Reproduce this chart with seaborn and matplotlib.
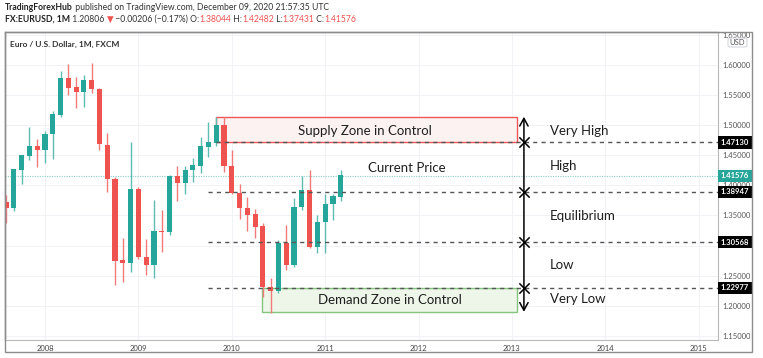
import matplotlib
matplotlib.use("Agg")
import matplotlib.pyplot as plt
import matplotlib.transforms as mtransforms
from matplotlib.patches import Rectangle, FancyBboxPatch
import seaborn as sns
import numpy as np

# ---------------- data ----------------
months = ["2007-08", "2007-09", "2007-10", "2007-11", "2007-12",
          "2008-01", "2008-02", "2008-03", "2008-04", "2008-05", "2008-06",
          "2008-07", "2008-08", "2008-09", "2008-10", "2008-11", "2008-12",
          "2009-01", "2009-02", "2009-03", "2009-04", "2009-05", "2009-06",
          "2009-07", "2009-08", "2009-09", "2009-10", "2009-11", "2009-12",
          "2010-01", "2010-02", "2010-03", "2010-04", "2010-05", "2010-06",
          "2010-07", "2010-08", "2010-09", "2010-10", "2010-11", "2010-12",
          "2011-01", "2011-02", "2011-03"]
opens = [1.371, 1.362, 1.426, 1.449, 1.464,
         1.459, 1.485, 1.517, 1.578, 1.562, 1.555,
         1.575, 1.560, 1.467, 1.410, 1.275, 1.271,
         1.394, 1.281, 1.268, 1.324, 1.322, 1.414,
         1.404, 1.425, 1.432, 1.464, 1.471, 1.500,
         1.432, 1.387, 1.362, 1.351, 1.331, 1.231,
         1.225, 1.304, 1.268, 1.364, 1.392, 1.298,
         1.339, 1.369, 1.38044]
highs = [1.384, 1.428, 1.450, 1.497, 1.477,
         1.491, 1.523, 1.590, 1.602, 1.580, 1.584,
         1.603, 1.561, 1.487, 1.414, 1.313, 1.472,
         1.397, 1.311, 1.376, 1.359, 1.418, 1.433,
         1.433, 1.445, 1.480, 1.506, 1.514, 1.514,
         1.459, 1.402, 1.381, 1.360, 1.337, 1.246,
         1.310, 1.334, 1.379, 1.416, 1.425, 1.350,
         1.386, 1.386, 1.42482]
lows = [1.338, 1.357, 1.402, 1.442, 1.430,
        1.437, 1.444, 1.514, 1.550, 1.529, 1.530,
        1.553, 1.459, 1.389, 1.235, 1.239, 1.256,
        1.277, 1.251, 1.246, 1.289, 1.318, 1.374,
        1.385, 1.406, 1.420, 1.447, 1.466, 1.422,
        1.386, 1.345, 1.324, 1.313, 1.215, 1.188,
        1.221, 1.259, 1.265, 1.359, 1.296, 1.287,
        1.287, 1.343, 1.37431]
closes = [1.362, 1.426, 1.449, 1.464, 1.459,
          1.485, 1.517, 1.578, 1.562, 1.555, 1.575,
          1.560, 1.469, 1.410, 1.275, 1.271, 1.394,
          1.281, 1.268, 1.324, 1.322, 1.414, 1.404,
          1.425, 1.433, 1.464, 1.471, 1.500, 1.432,
          1.387, 1.362, 1.351, 1.331, 1.231, 1.225,
          1.304, 1.268, 1.364, 1.392, 1.298, 1.339,
          1.369, 1.381, 1.41576]

year_ticks = [2008, 2009, 2010, 2011, 2012, 2013, 2014, 2015]
price_ticks = [1.15, 1.20, 1.25, 1.30, 1.35, 1.40, 1.45, 1.50, 1.55, 1.60, 1.65]
price_tick_labels = ["1.15000", "1.20000", "1.25000", "", "1.35000", "1.40000",
                     "1.45000", "1.50000", "1.55000", "1.60000", "1.65000"]

levels = [1.47130, 1.38947, 1.30568, 1.22977]
current_price = 1.41576
supply_zone = (1.47130, 1.514)
demand_zone = (1.190, 1.22977)
zone_labels = ["Very High", "High", "Equilibrium", "Low", "Very Low"]
zone_label_prices = [1.4904, 1.4322, 1.349, 1.2678, 1.2113]

header1 = [("TradingForexHub", "#222222", "bold"),
           (" published on TradingView.com, December 09, 2020 21:57:35 UTC", "#333333", "normal")]
header2 = [("FX:EURUSD, 1M", "#222222", "bold"), (" 1.20806 ", "#333333", "normal"),
           ("▼", "#ef5350", "normal"), (" −0.00206 (−0.17%) O:", "#333333", "normal"),
           ("1.38044", "#ef5350", "normal"), (" H:", "#333333", "normal"),
           ("1.42482", "#ef5350", "normal"), (" L:", "#333333", "normal"),
           ("1.37431", "#ef5350", "normal"), (" C:", "#333333", "normal"),
           ("1.41576", "#ef5350", "normal")]

# ---------------- style ----------------
sns.set_style("white")
plt.rcParams["font.family"] = ["Lato", "DejaVu Sans"]

W, H = 763, 358
fig = plt.figure(figsize=(W / 100, H / 100), dpi=100)
fig.patch.set_facecolor("white")

L, R, T, B = 5, 718, 32, 340
ax = fig.add_axes([L / W, 1 - B / H, (R - L) / W, (B - T) / H])

# time coordinate for each month
t = np.array([int(m[:4]) + (int(m[5:]) - 1) / 12 for m in months])
o = np.array(opens); c = np.array(closes); hi = np.array(highs); lo = np.array(lows)
up = c >= o
green, red = "#26a69a", "#ef5350"
cols = np.where(up, green, red)
wick_cols = np.where(up, "#5dbdb3", "#f27b79")

xmin, xmax = 2007.572, 2015.206
ax.set_xlim(xmin, xmax)
ax.set_ylim(1.1432, 1.6548)

# grid / ticks
ax.set_xticks(year_ticks)
ax.set_xticklabels([str(y) for y in year_ticks])
ax.set_yticks(price_ticks)
ax.set_yticklabels(price_tick_labels)
ax.yaxis.tick_right()
ax.grid(True, color="#f0f2f6", lw=0.7)
ax.set_axisbelow(True)
ax.tick_params(axis="x", length=0, pad=3.5, labelsize=5.5, labelcolor="#444444")
ax.tick_params(axis="y", length=0, pad=3.5, labelsize=5.5, labelcolor="#555555")
for s in ["left", "top"]:
    ax.spines[s].set_color("#8c8c8c"); ax.spines[s].set_linewidth(1.0)
for s in ["right", "bottom"]:
    ax.spines[s].set_color("#b8b8b8"); ax.spines[s].set_linewidth(0.8)

# candles
ax.vlines(t, lo, hi, colors=wick_cols, lw=1.0, zorder=2)
ax.bar(t, np.abs(c - o) + 0.0008, bottom=np.minimum(o, c), width=0.055,
       color=cols, edgecolor="none", zorder=3)

# current price line
ax.axhline(current_price, color=green, lw=0.8, ls=(0, (1, 1.2)), alpha=0.55, zorder=1.5)

# zones
x_sup0, x_dem0, x_zone1 = 2009.831, 2010.323, 2013.054
x_dash0 = 2009.745
x_arrow = 2013.128
ax.add_patch(Rectangle((x_sup0, supply_zone[0]), x_zone1 - x_sup0, supply_zone[1] - supply_zone[0],
                       fc="#fdf2f2", ec="#f05656", lw=1.0, zorder=1.6))
ax.add_patch(Rectangle((x_dem0, demand_zone[0]), x_zone1 - x_dem0, demand_zone[1] - demand_zone[0],
                       fc="#edf6e9", ec="#84c47e", lw=1.0, zorder=1.6))

# dashed levels
ax.hlines(levels[0], x_sup0, xmax, colors="#555555", lw=1.0, linestyles=(0, (3, 3)), zorder=4)
ax.hlines(levels[1:], x_dash0, xmax, colors="#555555", lw=1.0, linestyles=(0, (3, 3)), zorder=4)

# arrow and markers
ax.annotate("", xy=(x_arrow, supply_zone[1]), xytext=(x_arrow, demand_zone[0]),
            arrowprops=dict(arrowstyle="<->,head_length=0.55,head_width=0.3", color="black",
                            lw=1.1, shrinkA=0, shrinkB=0), zorder=5)
sns.scatterplot(x=[x_arrow] * len(levels), y=levels, marker="x", s=55, color="black",
                linewidth=1.1, ax=ax, zorder=6, legend=False)
ax.set_xlabel(""); ax.set_ylabel("")

fs = 9.5
tc = "#1e1e1e"
ax.text((x_sup0 + x_zone1) / 2 - 0.02, 1.4904, "Supply Zone in Control", ha="center", va="center",
        fontsize=fs, color=tc, zorder=7)
ax.text((x_dem0 + x_zone1) / 2, 1.2096, "Demand Zone in Control", ha="center", va="center",
        fontsize=fs, color=tc, zorder=7)
ax.text(2011.876, 1.4289, "Current Price", ha="center", va="center", fontsize=fs, color=tc, zorder=7)
for lab, yp in zip(zone_labels, zone_label_prices):
    ax.text(2013.407, yp, lab, ha="left", va="center", fontsize=fs, color=tc, zorder=7)

# price tags
blend = mtransforms.blended_transform_factory(ax.transAxes, ax.transData)
tag_x = 1.0 + 3 / (R - L)
for lv in levels:
    ax.text(tag_x, lv, f"{lv:.5f}", transform=blend, ha="left", va="center", fontsize=5.5,
            color="white", fontweight="bold", clip_on=False, zorder=10,
            bbox=dict(boxstyle="square,pad=0.35", fc="black", ec="none"))
ax.text(tag_x, current_price, f"{current_price:.5f}", transform=blend, ha="left", va="center",
        fontsize=5.5, color="white", fontweight="bold", clip_on=False, zorder=10,
        bbox=dict(boxstyle="square,pad=0.35", fc=green, ec="none"))

# chart label
fig.text(10 / W, 1 - 44 / H, "Euro / U.S. Dollar, 1M, FXCM", fontsize=6, fontweight="bold",
         color="#333333", va="center", ha="left")

# USD box
fig.patches.append(FancyBboxPatch((728 / W, 1 - 47 / H), 19 / W, 9 / H,
                                  boxstyle="round,pad=0,rounding_size=0.004",
                                  transform=fig.transFigure, fc="white", ec="#cfd3da", lw=0.7, zorder=20))
fig.text(737.5 / W, 1 - 42.5 / H, "USD", fontsize=5.5, color="#555555", ha="center", va="center", zorder=21)

# outer frame
fig.patches.append(Rectangle((L / W, 1 - 352 / H), (752 - L) / W, (352 - T) / H,
                             transform=fig.transFigure, fill=False, ec="#8c8c8c", lw=1.0, zorder=30))

# header lines
renderer = fig.canvas.get_renderer()
def seq(x_px, y_px, parts, size):
    x = x_px
    for s, col, wt in parts:
        tx = fig.text(x / W, 1 - y_px / H, s, fontsize=size, color=col, fontweight=wt,
                      ha="left", va="center")
        x += tx.get_window_extent(renderer).width
seq(5, 7.5, header1, 6.2)
seq(5, 19, header2, 6.2)

fig.savefig("out.png", dpi=100)
